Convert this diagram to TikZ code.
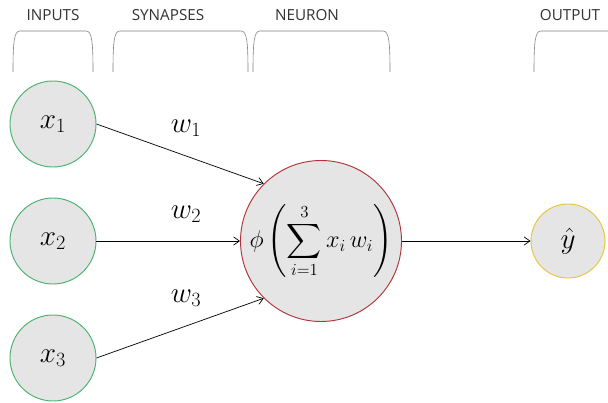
\documentclass[tikz,border=0pt]{standalone}
\usepackage{amsmath}
\usepackage{fontspec}
\setsansfont{Open Sans}
\usepackage{tikz}
\usetikzlibrary{arrows.meta}
\definecolor{ingreen}{RGB}{72,178,110}
\definecolor{neured}{RGB}{176,52,58}
\definecolor{outyellow}{RGB}{232,196,60}
\definecolor{cellgray}{RGB}{229,229,229}
\definecolor{headgray}{RGB}{50,50,50}

\begin{document}
\begin{tikzpicture}[x=0.03cm, y=-0.03cm,
    unit/.style={circle, fill=cellgray, draw, line width=0.8pt, inner sep=0pt},
    wlabel/.style={font=\fontsize{25}{28}\selectfont},
    head/.style={font=\sffamily\fontsize{13}{15}\selectfont, text=headgray},
    link/.style={-{Straight Barb[length=5pt, width=7pt]}, line width=0.6pt}]
  \useasboundingbox (0,0) rectangle (608,403);
  % headers
  \node[head] (hin)  at (53,15)  {INPUTS};
  \node[head] (hsyn) at (168,15) {SYNAPSES};
  \node[head] (hneu) at (307,15) {NEURON};
  \node[head] (hout) at (570,15) {OUTPUT};
  % brackets under the headers
  \foreach \a/\b in {13/93, 113/248, 253/390} {
    \draw[gray, line width=0.5pt] (\a,72) .. controls (\a,42) and (\a+1,31) .. (\a+7,31)
      -- (\b-7,31) .. controls (\b-1,31) and (\b,42) .. (\b,72);
  }
  \draw[gray, line width=0.5pt] (534,72) .. controls (534,42) and (535,31) .. (541,31) -- (608,31);
  % inputs
  \foreach \i/\y in {1/124, 2/241, 3/358} {
    \node[unit, draw=ingreen, minimum size=2.58cm] (x\i) at (53,\y)
      {\fontsize{26}{30}\selectfont$x_{\i}$};
  }
  % neuron
  \node[unit, draw=neured, minimum size=4.74cm] (nrn) at (321,241)
    {\fontsize{21}{24}\selectfont$\displaystyle \phi\left(\sum_{i=1}^{3} x_i\, w_i\right)$};
  % output
  \node[unit, draw=outyellow, minimum size=2.22cm] (yhat) at (568,241)
    {\fontsize{26}{30}\selectfont$\hat{y}$};
  % synapses
  \draw[link] (x1.east) -- (nrn.135);
  \draw[link] (x2.east) -- (nrn.west);
  \draw[link] (x3.east) -- (nrn.225);
  \draw[link] (nrn.east) -- (yhat.west);
  % weights
  \node[wlabel] (w1) at (186,128) {$w_1$};
  \node[wlabel] (w2) at (186,214) {$w_2$};
  \node[wlabel] (w3) at (186,298) {$w_3$};
\end{tikzpicture}
\end{document}
